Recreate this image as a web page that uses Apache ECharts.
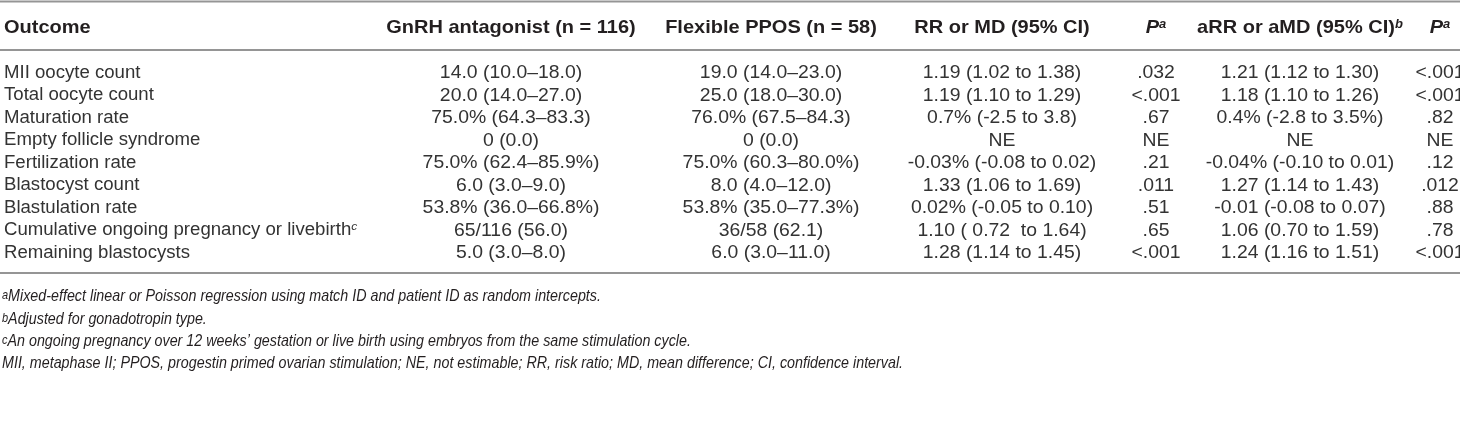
<!DOCTYPE html>
<html>
<head>
<meta charset="utf-8">
<script src="https://cdn.jsdelivr.net/npm/echarts@6/dist/echarts.min.js"></script>
<style>
  html, body { margin: 0; padding: 0; background: #fff; }
  #main { width: 1460px; height: 428px; }
</style>
</head>
<body>
<div id="main"></div>
<script>
// table content
const headers = ['Outcome', 'GnRH antagonist (n = 116)', 'Flexible PPOS (n = 58)', 'RR or MD (95% CI)', '{pi|P}^a', 'aRR or aMD (95% CI)^b', '{pi|P}^a']
const outcomes = ['MII oocyte count', 'Total oocyte count', 'Maturation rate', 'Empty follicle syndrome', 'Fertilization rate', 'Blastocyst count', 'Blastulation rate', 'Cumulative ongoing pregnancy or livebirth^c', 'Remaining blastocysts']
const gnrh = ['14.0 (10.0–18.0)', '20.0 (14.0–27.0)', '75.0% (64.3–83.3)', '0 (0.0)', '75.0% (62.4–85.9%)', '6.0 (3.0–9.0)', '53.8% (36.0–66.8%)', '65/116 (56.0)', '5.0 (3.0–8.0)']
const ppos = ['19.0 (14.0–23.0)', '25.0 (18.0–30.0)', '76.0% (67.5–84.3)', '0 (0.0)', '75.0% (60.3–80.0%)', '8.0 (4.0–12.0)', '53.8% (35.0–77.3%)', '36/58 (62.1)', '6.0 (3.0–11.0)']
const rrMd = ['1.19 (1.02 to 1.38)', '1.19 (1.10 to 1.29)', '0.7% (-2.5 to 3.8)', 'NE', '-0.03% (-0.08 to 0.02)', '1.33 (1.06 to 1.69)', '0.02% (-0.05 to 0.10)', '1.10 ( 0.72  to 1.64)', '1.28 (1.14 to 1.45)']
const pCrude = ['.032', '<.001', '.67', 'NE', '.21', '.011', '.51', '.65', '<.001']
const aRrMd = ['1.21 (1.12 to 1.30)', '1.18 (1.10 to 1.26)', '0.4% (-2.8 to 3.5%)', 'NE', '-0.04% (-0.10 to 0.01)', '1.27 (1.14 to 1.43)', '-0.01 (-0.08 to 0.07)', '1.06 (0.70 to 1.59)', '1.24 (1.16 to 1.51)']
const pAdj = ['<.001', '<.001', '.82', 'NE', '.12', '.012', '.88', '.78', '<.001']
const footnotes = [
  '^aMixed-effect linear or Poisson regression using match ID and patient ID as random intercepts.',
  '^bAdjusted for gonadotropin type.',
  '^cAn ongoing pregnancy over 12 weeks’ gestation or live birth using embryos from the same stimulation cycle.',
  'MII, metaphase II; PPOS, progestin primed ovarian stimulation; NE, not estimable; RR, risk ratio; MD, mean difference; CI, confidence interval.'
]

// layout (px)
const FONT = "'Liberation Sans', Arial, sans-serif"
const colX = [4, 511, 771, 1002, 1156, 1300, 1440]
const ROW0_Y = 73
const ROW_H = 22.5
const HEADER_Y = 28
const RULES_Y = [1.5, 50, 273]
const NOTE_Y = [297, 320, 342, 364]
const SQUASH = 0.95
const NOTE_STRETCH = 1.1
const INK = '#231f20'
const INK_LIGHT = '#333333'

const columns = [outcomes, gnrh, ppos, rrMd, pCrude, aRrMd, pAdj]
const headerRow = (HEADER_Y - ROW0_Y) / ROW_H

const cells = []
headers.forEach((h, c) => cells.push({ c, r: headerRow, text: h, head: true }))
outcomes.forEach((_, r) => {
  columns.forEach((col, c) => cells.push({ c, r, text: col[r], head: false }))
})

const sup = s => s.replace(/\^([a-z])/g, '{sup|$1}')
const rich = {
  sup: { fontSize: 12, fontStyle: 'italic', verticalAlign: 'top', fontFamily: FONT, fill: INK_LIGHT }
}
const richHead = {
  sup: { fontSize: 13, fontStyle: 'italic', fontWeight: 'bold', verticalAlign: 'top', fontFamily: FONT, fill: INK },
  pi: { fontSize: 20, fontStyle: 'italic', fontWeight: 'bold', fontFamily: FONT, fill: INK }
}

const chart = echarts.init(document.getElementById('main'))

const graphics = RULES_Y.map(y => ({
  type: 'line',
  shape: { x1: 0, y1: y, x2: 1460, y2: y },
  style: { stroke: '#959595', lineWidth: 1.8 },
  silent: true
}))
footnotes.forEach((t, i) => {
  graphics.push({
    type: 'text',
    x: 2,
    y: NOTE_Y[i],
    scaleY: NOTE_STRETCH,
    style: {
      text: sup(t),
      rich: { sup: { fontSize: 11, fontStyle: 'italic', verticalAlign: 'top', fontFamily: FONT, fill: INK } },
      font: 'italic 14.3px ' + FONT,
      fill: INK,
      verticalAlign: 'middle'
    }
  })
})

function cellFont(d) {
  if (d.head) return 'bold 20px ' + FONT
  return (d.c === 0 ? '18.6px ' : '19.4px ') + FONT
}

chart.setOption({
  animation: false,
  grid: { left: 0, right: 0, top: ROW0_Y - ROW_H / 2, height: ROW_H * outcomes.length },
  xAxis: { type: 'value', min: 0, max: 1460, show: false },
  yAxis: { type: 'value', min: -0.5, max: outcomes.length - 0.5, inverse: true, show: false },
  graphic: graphics,
  series: [{
    type: 'custom',
    clip: false,
    data: cells.map(d => [d.c, d.r]),
    renderItem(params, api) {
      const d = cells[params.dataIndex]
      const pt = api.coord([colX[api.value(0)], api.value(1)])
      return {
        type: 'text',
        x: pt[0],
        y: pt[1],
        scaleY: SQUASH,
        style: {
          text: sup(d.text),
          rich: d.head ? richHead : rich,
          font: cellFont(d),
          fill: d.head ? INK : INK_LIGHT,
          align: d.c === 0 ? 'left' : 'center',
          verticalAlign: 'middle'
        }
      }
    }
  }]
})
</script>
</body>
</html>
